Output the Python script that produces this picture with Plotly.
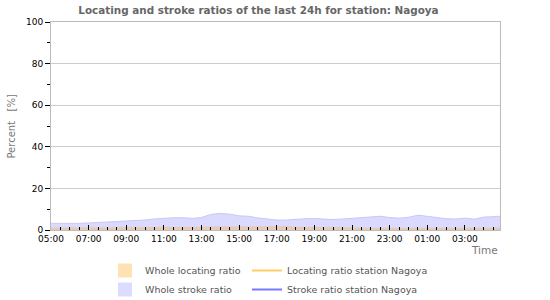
import pandas as pd
import plotly.graph_objects as go

times = pd.date_range("2024-01-01 05:00", "2024-01-02 05:00", freq="30min")

whole_stroke = [3.2, 3.1, 3.1, 3.2, 3.4, 3.6, 4.0, 4.0, 4.2, 4.5, 4.8, 5.3, 5.7, 5.9, 5.9, 5.6,
                6.0, 7.5, 8.0, 7.6, 6.8, 6.6, 5.8, 5.2, 4.8, 4.8, 5.2, 5.4, 5.5, 5.1, 5.0, 5.3,
                5.6, 5.9, 6.3, 6.6, 6.0, 5.7, 6.1, 7.1, 6.6, 6.0, 5.4, 5.3, 5.7, 5.2, 6.2, 6.4, 6.7]
whole_locating = [0.9, 0.9, 0.9, 1.0, 1.0, 1.0, 1.0, 1.0, 1.0, 1.0, 1.0, 1.1, 1.1, 1.1, 1.1, 1.1,
                  1.2, 1.4, 1.5, 1.5, 1.4, 1.4, 1.5, 1.7, 1.8, 1.6, 1.3, 1.2, 1.1, 1.0, 1.0, 0.9,
                  0.9, 0.9, 0.8, 0.8, 0.8, 0.8, 0.8, 0.8, 0.8, 0.8, 0.8, 0.8, 0.8, 0.8, 0.9, 0.9, 0.9]

title_text = "Locating and stroke ratios of the last 24h for station: Nagoya"
x_start = "2024-01-01 05:00"
x_end = "2024-01-02 04:52"

fig = go.Figure()
# data areas (legend entries drawn separately as square swatches)
fig.add_trace(go.Scatter(x=times, y=whole_stroke, mode="lines", fill="tozeroy",
                         line=dict(color="#c8c8f4", width=1), fillcolor="rgba(214,214,255,0.9)",
                         name="Whole stroke ratio", showlegend=False))
fig.add_trace(go.Scatter(x=times, y=whole_locating, mode="lines", fill="tozeroy",
                         line=dict(color="#e8c8a8", width=1), fillcolor="rgba(230,200,180,0.85)",
                         name="Whole locating ratio", showlegend=False))
# legend entries: column 1 (legend), column 2 (legend2)
fig.add_trace(go.Scatter(x=[None], y=[None], mode="markers",
                         marker=dict(symbol="square", size=14, color="#ffe2b4"),
                         name="Whole locating ratio", legend="legend"))
fig.add_trace(go.Scatter(x=[None], y=[None], mode="markers",
                         marker=dict(symbol="square", size=14, color="#dcdcff"),
                         name="Whole stroke ratio", legend="legend"))
fig.add_trace(go.Scatter(x=[None], y=[None], mode="lines", line=dict(color="#ffcc66", width=2),
                         name="Locating ratio station Nagoya", legend="legend2"))
fig.add_trace(go.Scatter(x=[None], y=[None], mode="lines", line=dict(color="#7777ff", width=2),
                         name="Stroke ratio station Nagoya", legend="legend2"))

legend_common = dict(orientation="v", xref="container", xanchor="left",
                     y=1 - 256 / 300, yref="container", yanchor="top", traceorder="normal",
                     font=dict(family="DejaVu Sans", size=9.5, color="#555555"),
                     bgcolor="rgba(0,0,0,0)", tracegroupgap=0, itemwidth=30)

fig.update_layout(
    width=550, height=300,
    margin=dict(l=51, r=50, t=22, b=70, autoexpand=False),
    paper_bgcolor="white", plot_bgcolor="white",
    font=dict(family="DejaVu Sans", size=9, color="black"),
    title=dict(text="<b>" + title_text + "</b>", x=0.47, xanchor="center", y=0.965, yanchor="middle",
               font=dict(family="DejaVu Sans", size=10.4, color="#666666")),
    showlegend=True,
    legend=dict(x=105 / 550, **legend_common),
    legend2=dict(x=247 / 550, **legend_common),
)
fig.update_xaxes(range=[x_start, x_end], tickformat="%H:%M", dtick=2 * 3600 * 1000,
                 tick0=x_start, ticks="inside", ticklen=5, tickcolor="black", tickwidth=1,
                 minor=dict(dtick=30 * 60 * 1000, ticks="inside", ticklen=3, tickcolor="black"),
                 showgrid=False, showline=True, linecolor="#bbbbbb", mirror=True,
                 tickfont=dict(size=9, color="black"))
fig.update_yaxes(range=[0, 100], dtick=20, ticks="outside", ticklen=5, tickcolor="black",
                 minor=dict(dtick=10, ticks="outside", ticklen=3, tickcolor="black", showgrid=False),
                 showgrid=True, gridcolor="#cccccc", gridwidth=1, zeroline=False,
                 showline=True, linecolor="#bbbbbb", mirror=True,
                 tickfont=dict(size=9, color="black"))
fig.add_annotation(text="Percent   [%]", xref="paper", yref="paper", x=-0.09, y=0.5,
                   textangle=-90, showarrow=False, xanchor="center", yanchor="middle",
                   font=dict(family="DejaVu Sans", size=10, color="#777777"))
fig.add_annotation(text="Time", xref="paper", yref="paper", x=1.0, y=-0.058,
                   showarrow=False, xanchor="right", yanchor="top",
                   font=dict(family="DejaVu Sans", size=10.5, color="#777777"))

fig.write_html("out.html")
